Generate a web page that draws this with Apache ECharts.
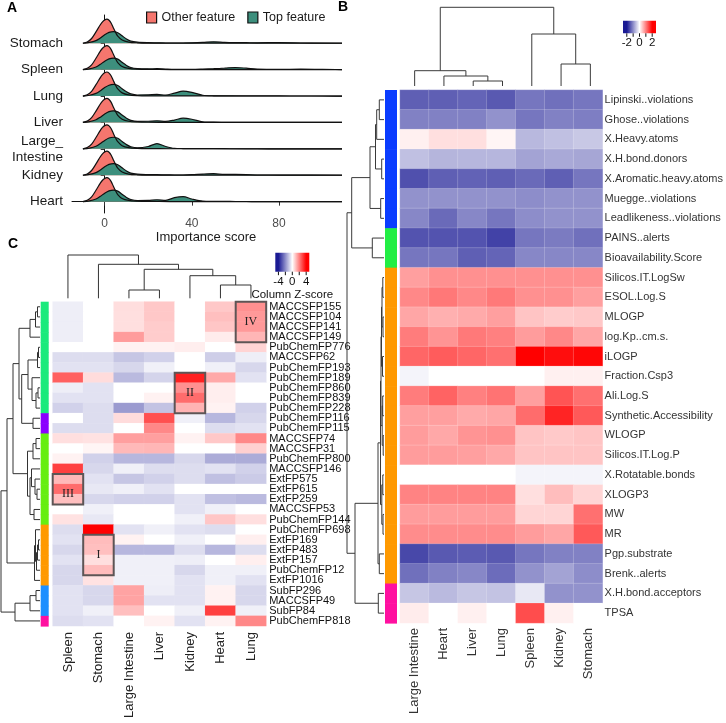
<!DOCTYPE html>
<html>
<head>
<meta charset="utf-8">
<script src="https://cdn.jsdelivr.net/npm/echarts@6.0.0/dist/echarts.min.js"></script>
<style>
html,body{margin:0;padding:0;background:#ffffff;}
#chart{width:726px;height:723px;}
</style>
</head>
<body>
<div id="chart"></div>
<script>
// ================= Panel A : ridgeline densities =================
const ridgeOrgans = ['Heart','Kidney','Large_\nIntestine','Liver','Lung','Spleen','Stomach']; // bottom -> top
const ridgeTicks = [0,1,2,3,4,5,6];
const importanceTicks = [0,40,80];
const otherX = [-10,-8,-6,-4,-2,-1,0,1,2,3,4,5,6,8,11,15,20,30,50,80,114];
const otherDensity = [0,0.05,0.18,0.43,0.7,0.81,0.88,0.91,0.87,0.76,0.58,0.41,0.27,0.12,0.045,0.017,0.007,0.004,0.003,0.002,0];
const topX = [-10,-7,-4,-2,0,2,4,6,8,10,12,15,20,24,28,32,36,40,45,50,55,60,65,70,80,90,100,114];
const topHeart   = [0,0.03,0.1,0.2,0.32,0.41,0.44,0.4,0.28,0.16,0.08,0.04,0.045,0.07,0.05,0.15,0.19,0.1,0.02,0.01,0.008,0.006,0.005,0.004,0.003,0.002,0.001,0];
const topKidney  = [0,0.03,0.1,0.2,0.32,0.41,0.44,0.4,0.28,0.16,0.08,0.04,0.025,0.02,0.012,0.01,0.01,0.02,0.045,0.06,0.03,0.03,0.025,0.01,0.008,0.005,0.003,0];
const topLargeIntestine = [0,0.03,0.1,0.2,0.32,0.41,0.44,0.4,0.28,0.16,0.08,0.04,0.09,0.2,0.09,0.02,0.012,0.01,0.008,0.006,0.005,0.004,0.003,0.003,0.002,0.002,0.001,0];
const topLiver   = [0,0.03,0.1,0.2,0.32,0.41,0.44,0.4,0.28,0.16,0.08,0.04,0.045,0.06,0.04,0.09,0.16,0.12,0.025,0.01,0.008,0.006,0.005,0.004,0.003,0.002,0.001,0];
const topLung    = [0,0.03,0.1,0.2,0.32,0.41,0.44,0.4,0.28,0.16,0.08,0.04,0.045,0.06,0.04,0.11,0.19,0.14,0.03,0.01,0.008,0.006,0.005,0.004,0.003,0.002,0.001,0];
const topSpleen  = [0,0.03,0.1,0.2,0.32,0.41,0.44,0.4,0.28,0.16,0.08,0.04,0.03,0.035,0.02,0.01,0.01,0.01,0.02,0.035,0.055,0.08,0.055,0.02,0.01,0.02,0.01,0];
const topStomach = [0,0.03,0.1,0.2,0.32,0.41,0.44,0.4,0.28,0.16,0.08,0.04,0.02,0.015,0.01,0.01,0.01,0.015,0.03,0.055,0.035,0.025,0.02,0.015,0.025,0.01,0.005,0];
const topByOrgan = [topHeart, topKidney, topLargeIntestine, topLiver, topLung, topSpleen, topStomach];

// ================= Panel B : descriptor heatmap =================
const bCols = ['Large Intestine','Heart','Liver','Lung','Spleen','Kidney','Stomach'];
const bRows = ['Lipinski..violations','Ghose..violations','X.Heavy.atoms','X.H.bond.donors','X.Aromatic.heavy.atoms',
  'Muegge..violations','Leadlikeness..violations','PAINS..alerts','Bioavailability.Score','Silicos.IT.LogSw',
  'ESOL.Log.S','MLOGP','log.Kp..cm.s.','iLOGP','Fraction.Csp3','Ali.Log.S','Synthetic.Accessibility','WLOGP',
  'Silicos.IT.Log.P','X.Rotatable.bonds','XLOGP3','MW','MR','Pgp.substrate','Brenk..alerts','X.H.bond.acceptors','TPSA'];
const bValues = [
  [-1.4,-1.4,-1.35,-1.45,-1.2,-1.25,-1.2],
  [-1.1,-1.1,-1.1,-0.95,-1.2,-1.1,-1.13],
  [0.12,0.25,0.25,0.08,-0.62,-0.55,-0.48],
  [-0.55,-0.65,-0.64,-0.64,-0.8,-0.75,-0.78],
  [-1.53,-1.4,-1.37,-1.4,-1.3,-1.4,-1.2],
  [-0.95,-0.95,-0.95,-0.95,-1.0,-0.95,-0.95],
  [-1.05,-1.3,-1.05,-1.2,-1.0,-0.95,-0.95],
  [-1.5,-1.5,-1.5,-1.65,-1.2,-1.15,-1.25],
  [-1.2,-1.2,-1.4,-1.35,-1.05,-1.05,-1.05],
  [0.75,0.87,0.87,0.87,0.87,0.87,0.87],
  [0.93,1.06,0.93,1.05,0.87,0.87,0.75],
  [0.7,0.62,0.67,0.75,0.46,0.4,0.43],
  [1.03,0.84,1.05,1.0,0.78,0.93,0.7],
  [1.2,1.28,1.2,1.12,2.0,1.9,1.95],
  [-0.1,0,0,0,0,0.12,0.12],
  [1.03,1.22,1.0,1.1,0.75,1.34,1.12],
  [0.75,0.75,0.67,0.7,1.15,1.72,1.3],
  [0.78,0.68,0.84,0.87,0.46,0.42,0.46],
  [0.78,0.78,0.75,0.68,0.46,0.46,0.46],
  [0,0,0,0,-0.1,-0.1,-0.1],
  [0.97,0.97,0.97,0.97,0.25,0.52,0.33],
  [0.78,0.78,0.78,0.78,0.33,0.33,1.12],
  [0.9,0.9,0.9,0.9,0.78,0.7,1.3],
  [-1.6,-1.45,-1.42,-1.45,-1.2,-1.1,-1.1],
  [-1.25,-1.1,-1.05,-1.28,-0.95,-0.8,-1.0],
  [-0.5,-0.6,-0.5,-0.52,-0.2,-0.95,-0.95],
  [0.15,0,0.12,0,1.4,0.12,0]
];
const bRowGroup = [0,0,0,0,0,0,0,1,1,2,2,2,2,2,2,2,2,2,2,2,2,2,2,2,2,3,3];
const bGroupColors = ['#0a3cff','#22ee44','#ff9900','#ff10a0'];
const bColMerge = [[-3,-4],[-2,1],[-1,2],[-6,-7],[-5,4],[3,5]];
const bColHeight = [5,10,15.3,22,52,78.7];
const bRowMerge = [[-1,-2],[1,-3],[-4,-5],[2,3],[-6,-7],[4,5],[-8,-9],[6,7],
  [-10,-11],[-12,-13],[9,10],[-14,-15],[11,12],[-16,-17],[-18,-19],[14,15],[13,16],
  [-20,-21],[-22,-23],[18,19],[17,20],[-24,-25],[21,22],[-26,-27],[23,24],[8,25]];
const bRowHeight = [4.7,7.3,2.3,8.5,3.3,14,11.7,32.3,1.2,1.0,2.0,1.5,2.5,1.3,0.8,1.8,3.0,1.2,1.0,2.2,3.5,4.7,6.0,5.7,29,37];
const bLegendTicks = [-2,-1,0,1,2];
const bLegendLabels = [-2,0,2];

// ================= Panel C : fingerprint heatmap =================
const cCols = ['Spleen','Stomach','Large Intestine','Liver','Kidney','Heart','Lung'];
const cRows = ['MACCSFP155','MACCSFP104','MACCSFP141','MACCSFP149','PubChemFP776','MACCSFP62','PubChemFP193',
  'PubChemFP189','PubChemFP860','PubChemFP839','PubChemFP228','PubChemFP116','PubChemFP115','MACCSFP74',
  'MACCSFP31','PubChemFP800','MACCSFP146','ExtFP575','ExtFP615','ExtFP259','MACCSFP53','PubChemFP144',
  'PubChemFP698','ExtFP169','ExtFP483','ExtFP157','PubChemFP12','ExtFP1016','SubFP296','MACCSFP49','SubFP84','PubChemFP818'];
const cValues = [
  [-0.3,0,0.52,0.86,0,0.86,1.74],
  [-0.3,0,0.5,0.86,0,1.0,1.6],
  [-0.3,0,0.5,0.8,0,0.9,1.6],
  [-0.3,0,1.55,0.8,0,0.3,1.15],
  [0,0,0.2,0.2,0.27,0,0.67],
  [-0.6,-0.6,-1.0,-0.8,0,-0.85,-0.3],
  [-0.5,-0.5,-0.7,-0.27,0,-0.27,-0.7],
  [2.5,0.55,-1.2,-0.75,3.5,1.35,-0.5],
  [-0.3,-0.5,0,0,1.75,0.27,0],
  [-0.5,-0.5,0,0.2,2.3,0.27,0],
  [-0.8,-0.6,-1.75,-1.05,1.2,0.2,-0.8],
  [0,-0.6,0.55,2.75,-0.27,-1.25,-0.7],
  [-0.6,-0.6,0,1.86,0,-0.6,-0.5],
  [0.5,0.45,1.5,1.5,0.2,0.86,1.86],
  [0,0.15,1.1,1.15,0,0,0.73],
  [0.2,-0.8,-1.25,-1.25,-0.7,-1.45,-1.45],
  [3.0,-0.7,-0.27,-0.6,-0.6,-0.5,-0.8],
  [1.1,-0.5,-1.0,-0.8,-0.6,-1.1,-0.9],
  [2.3,-0.4,-0.27,-0.5,0,0,0],
  [1.0,-0.7,-0.8,-0.8,-0.5,-1.1,-1.2],
  [0,-0.27,0,0,-0.5,-0.27,0],
  [0.45,-0.4,0,0,-0.27,0.9,0.5],
  [-0.6,4.0,-0.5,-0.27,-0.5,-0.6,0],
  [-0.5,1.05,0.2,0,-0.27,0,0.25],
  [-0.7,1.0,-1.25,-1.25,-0.6,-1.25,-0.6],
  [-0.5,0.5,-0.27,-0.27,-0.3,0,0.25],
  [-0.7,1.05,-0.27,-0.27,-0.7,-0.27,-0.27],
  [-0.7,0.45,-0.27,-0.27,-0.5,-0.27,-0.5],
  [-0.5,-0.7,1.45,-0.3,-0.5,0.2,-0.7],
  [-0.5,-0.7,1.45,-0.5,-0.5,0.2,-0.7],
  [-0.5,-0.27,1.0,0,-0.27,3.0,-0.27],
  [-0.6,-0.5,0,0.2,-0.5,0.2,1.86]
];
const cRowGroup = [0,0,0,0,0,0,0,0,0,0,0,1,1,2,2,2,2,2,2,2,2,2,3,3,3,3,3,3,4,4,4,5];
const cGroupColors = ['#1aea7c','#8a00ff','#66ee11','#ff9900','#1e8fff','#ff10a0'];
const cColMerge = [[-3,-4],[-6,-7],[-5,2],[1,3],[-2,4],[-1,5]];
const cColHeight = [8.3,13.3,22.6,29,34,43.3];
const cRowMerge = [[-1,-2],[1,-3],[2,-4],[-5,-6],[4,-7],[-9,-10],[6,-11],[-8,7],[5,8],[-12,-13],[9,10],[3,11],
  [-14,-15],[13,-16],[-19,-20],[-18,15],[-17,16],[-21,-22],[17,18],[14,19],[12,20],
  [-24,-25],[22,-26],[23,-27],[-23,24],[25,-28],[21,26],[-29,-30],[28,-31],[29,-32],[27,30]];
const cRowHeight = [2.5,4.5,10,1.5,2.5,2,4,8,12,7,18.3,21,4,7,3,5,8.5,6,10,12.5,27,1.5,2.5,3.5,4.5,5.5,33,4,10,25,39];
// highlighted boxes: [column, first row, last row, row of label]
const cBoxes = [[6,0,3,1],[4,7,10,8],[0,17,19,18],[1,23,26,24]];
const cBoxLabels = ['IV','II','III','I'];
const cLegendTicks = [-4,-2,0,2,4];
const cLegendLabels = [-4,0,4];

// ================= styling constants =================
const FONT = '"Liberation Sans", Arial, Helvetica, sans-serif';
const RED_FILL = '#f5766e', TEAL_FILL = '#3d8f7d';
const BLUE_END = '#1a1a94', RED_END = '#ff0000';

function dendroSegments(merges, heights) {
  const pos = [], hgt = [], segs = [];
  merges.forEach((m, i) => {
    const get = r => r < 0 ? [(-r) - 1, 0] : [pos[r - 1], hgt[r - 1]];
    const [pl, hl] = get(m[0]);
    const [pr, hr] = get(m[1]);
    pos[i] = (pl + pr) / 2; hgt[i] = heights[i];
    segs.push([pl, hl, pr, hr, heights[i]]);
  });
  return segs;
}
function dendroRender(horizontal, color) {
  return function (params, api) {
    const pl = api.value(0), hl = api.value(1), pr = api.value(2), hr = api.value(3), h = api.value(4);
    const pts = horizontal ? [[hl, pl], [h, pl], [h, pr], [hr, pr]] : [[pl, hl], [pl, h], [pr, h], [pr, hr]];
    return { type: 'polyline', silent: true, shape: { points: pts.map(p => api.coord(p)) },
      style: { stroke: color, lineWidth: 1, fill: null } };
  };
}
function sideBarRender(colors) {
  return function (params, api) {
    const c = api.coord([0, api.value(1)]);
    const s = api.size([1, 1]);
    return { type: 'rect', silent: true, shape: { x: c[0] - s[0] / 2, y: c[1] - s[1] / 2, width: s[0], height: s[1] + 0.6 },
      style: { fill: colors[api.value(2)] } };
  };
}

const chart = echarts.init(document.getElementById('chart'), null, { renderer: 'canvas', width: 726, height: 723 });

const grids = [
  { left: 72, top: 15, width: 268, height: 198 },          // 0 A
  { left: 400, top: 7.3, width: 205, height: 78.7 },       // 1 B col dendro
  { left: 345, top: 90, width: 39, height: 533 },          // 2 B row dendro
  { left: 385, top: 90, width: 12, height: 533 },          // 3 B side bar
  { left: 400, top: 90, width: 205, height: 533 },         // 4 B heatmap
  { left: 52.7, top: 255, width: 213.5, height: 43.3 },    // 5 C col dendro
  { left: 0, top: 301.7, width: 40, height: 324.3 },       // 6 C row dendro
  { left: 40.7, top: 301.7, width: 8, height: 324.3 },     // 7 C side bar
  { left: 52.7, top: 301.7, width: 213.5, height: 324.3 }  // 8 C heatmap
];

const hiddenVal = (gi, min, max, inverse) => ({ type: 'value', gridIndex: gi, min, max, inverse: !!inverse, show: false, splitLine: { show: false } });
const hiddenCat = (gi, data, inverse) => ({ type: 'category', gridIndex: gi, data, inverse: !!inverse, show: false });

const xAxes = [
  { type: 'value', gridIndex: 0, min: -15, max: 108, splitLine: { show: false },
    axisLine: { show: true, lineStyle: { color: '#111', width: 1 } },
    axisTick: { show: true, customValues: importanceTicks, length: 4, lineStyle: { color: '#333' } },
    axisLabel: { customValues: importanceTicks, color: '#4d4d4d', fontSize: 12, fontFamily: FONT, margin: 5 },
    name: 'Importance score', nameLocation: 'middle', nameGap: 15,
    nameTextStyle: { fontSize: 13, color: '#1a1a1a', fontFamily: FONT } },
  hiddenVal(1, -0.5, 6.5),
  hiddenVal(2, 0, 39, true),
  hiddenCat(3, ['g']),
  { type: 'category', gridIndex: 4, data: bCols, axisLine: { show: false }, axisTick: { show: false },
    axisLabel: { interval: 0, rotate: 90, fontSize: 13, color: '#333', fontFamily: FONT, margin: 5 } },
  hiddenVal(5, -0.5, 6.5),
  hiddenVal(6, 0, 40, true),
  hiddenCat(7, ['g']),
  { type: 'category', gridIndex: 8, data: cCols, axisLine: { show: false }, axisTick: { show: false },
    axisLabel: { interval: 0, rotate: 90, fontSize: 13, color: '#222', fontFamily: FONT, margin: 6 } }
];
const yAxes = [
  { type: 'value', gridIndex: 0, min: -0.43, max: 7.07, splitLine: { show: false },
    axisLine: { show: true, lineStyle: { color: '#111', width: 1 } },
    axisTick: { show: true, customValues: ridgeTicks, length: 4, lineStyle: { color: '#333' } },
    axisLabel: { customValues: ridgeTicks, formatter: v => ridgeOrgans[Math.round(v)], fontSize: 13.5,
      color: '#1a1a1a', fontFamily: FONT, margin: 9, lineHeight: 16, padding: [0, 0, 10, 0] } },
  hiddenVal(1, 0, 78.7),
  hiddenVal(2, -0.5, bRows.length - 0.5, true),
  hiddenCat(3, bRows, true),
  { type: 'category', gridIndex: 4, data: bRows, inverse: true, position: 'right', axisLine: { show: false }, axisTick: { show: false },
    axisLabel: { interval: 0, fontSize: 11, color: '#333', fontFamily: FONT, margin: 2 } },
  hiddenVal(5, 0, 43.3),
  hiddenVal(6, -0.5, cRows.length - 0.5, true),
  hiddenCat(7, cRows, true),
  { type: 'category', gridIndex: 8, data: cRows, inverse: true, position: 'right', axisLine: { show: false }, axisTick: { show: false },
    axisLabel: { interval: 0, fontSize: 11, color: '#111', fontFamily: FONT, margin: 3, hideOverlap: false } }
];

const series = [];
// Panel A ridges, top ridge first so lower ridges draw over it
for (let k = ridgeOrgans.length - 1; k >= 0; k--) {
  series.push({ type: 'line', name: 'Other feature', xAxisIndex: 0, yAxisIndex: 0,
    data: otherX.map((x, i) => [x, k + otherDensity[i]]), smooth: 0.3,
    showSymbol: false, symbol: 'none', clip: false, silent: true,
    lineStyle: { color: '#111', width: 1.2 }, itemStyle: { color: RED_FILL },
    areaStyle: { color: RED_FILL, opacity: 1, origin: k } });
  series.push({ type: 'line', name: 'Top feature', xAxisIndex: 0, yAxisIndex: 0,
    data: topX.map((x, i) => [x, k + topByOrgan[k][i]]), smooth: 0.3,
    showSymbol: false, symbol: 'none', clip: false, silent: true,
    lineStyle: { color: '#111', width: 1.2 }, itemStyle: { color: TEAL_FILL },
    areaStyle: { color: TEAL_FILL, opacity: 1, origin: k } });
}
// Panel B
series.push({ type: 'custom', xAxisIndex: 1, yAxisIndex: 1, data: dendroSegments(bColMerge, bColHeight), renderItem: dendroRender(false, '#3a3a3a'), silent: true });
series.push({ type: 'custom', xAxisIndex: 2, yAxisIndex: 2, data: dendroSegments(bRowMerge, bRowHeight), renderItem: dendroRender(true, '#3a3a3a'), silent: true });
series.push({ type: 'custom', xAxisIndex: 3, yAxisIndex: 3, data: bRowGroup.map((g, r) => [0, r, g]), renderItem: sideBarRender(bGroupColors), silent: true });
const bHeatData = [];
bValues.forEach((row, r) => row.forEach((v, c) => bHeatData.push([c, r, v])));
const iB = series.length;
series.push({ type: 'heatmap', xAxisIndex: 4, yAxisIndex: 4, data: bHeatData, silent: true,
  itemStyle: { borderColor: 'rgba(255,255,255,0.3)', borderWidth: 0.6 } });
// Panel C
series.push({ type: 'custom', xAxisIndex: 5, yAxisIndex: 5, data: dendroSegments(cColMerge, cColHeight), renderItem: dendroRender(false, '#333'), silent: true });
series.push({ type: 'custom', xAxisIndex: 6, yAxisIndex: 6, data: dendroSegments(cRowMerge, cRowHeight), renderItem: dendroRender(true, '#333'), silent: true });
series.push({ type: 'custom', xAxisIndex: 7, yAxisIndex: 7, data: cRowGroup.map((g, r) => [0, r, g]), renderItem: sideBarRender(cGroupColors), silent: true });
const cHeatData = [];
cValues.forEach((row, r) => row.forEach((v, c) => cHeatData.push([c, r, v])));
const iC = series.length;
series.push({ type: 'heatmap', xAxisIndex: 8, yAxisIndex: 8, data: cHeatData, silent: true,
  itemStyle: { borderColor: 'rgba(255,255,255,0.15)', borderWidth: 0.4 } });
series.push({ type: 'custom', xAxisIndex: 8, yAxisIndex: 8, z: 5, silent: true,
  data: cBoxes.map((b, i) => [b[0], b[1], b[2], b[3], i]),
  renderItem: function (params, api) {
    const col = api.value(0), rs = api.value(1), re = api.value(2), lr = api.value(3), idx = api.value(4);
    const a = api.coord([col, rs]), b = api.coord([col, re]), s = api.size([1, 1]);
    const lab = api.coord([col, lr]);
    return { type: 'group', children: [
      { type: 'rect', shape: { x: a[0] - s[0] / 2, y: a[1] - s[1] / 2, width: s[0], height: b[1] - a[1] + s[1] },
        style: { fill: null, stroke: '#5d5555', lineWidth: 2 } },
      { type: 'text', x: lab[0], y: lab[1] + s[1] / 2,
        style: { text: cBoxLabels[idx], font: '12px "Liberation Serif", "Times New Roman", serif', fill: '#222', align: 'center', verticalAlign: 'middle' } }
    ] };
  } });

// colour-key graphics
function colorKey(x, y, w, h, lo, hi, sat, ticks, labels, title) {
  const px = v => x + (v - lo) / (hi - lo) * w;
  const els = [{ type: 'rect', shape: { x, y, width: w, height: h }, silent: true,
    style: { fill: new echarts.graphic.LinearGradient(0, 0, 1, 0, [
      { offset: 0, color: BLUE_END }, { offset: (-sat - lo) / (hi - lo), color: BLUE_END },
      { offset: (0 - lo) / (hi - lo), color: '#ffffff' },
      { offset: (sat - lo) / (hi - lo), color: RED_END }, { offset: 1, color: RED_END }]) } }];
  ticks.forEach(t => els.push({ type: 'line', silent: true, shape: { x1: px(t), y1: y + h, x2: px(t), y2: y + h + 3.5 }, style: { stroke: '#111', lineWidth: 1 } }));
  labels.forEach(t => els.push({ type: 'text', silent: true, x: px(t), y: y + h + 4,
    style: { text: String(t), font: '11.5px ' + FONT, fill: '#111', align: 'center', verticalAlign: 'top' } }));
  if (title) els.push({ type: 'text', silent: true, x: x + w / 2, y: y + h + 17,
    style: { text: title, font: '11.5px ' + FONT, fill: '#111', align: 'center', verticalAlign: 'top' } });
  return els;
}
const graphics = [
  { type: 'text', left: 7, top: 1, style: { text: 'A', font: 'bold 14px ' + FONT, fill: '#000' } },
  { type: 'text', left: 338, top: 0, style: { text: 'B', font: 'bold 14px ' + FONT, fill: '#000' } },
  { type: 'text', left: 8, top: 237, style: { text: 'C', font: 'bold 14px ' + FONT, fill: '#000' } },
  ...colorKey(623, 20.7, 33, 12.6, -2.6, 2.6, 2, bLegendTicks, bLegendLabels, null),
  ...colorKey(275.3, 252.7, 34, 19, -4.9, 4.9, 4, cLegendTicks, cLegendLabels, 'Column Z-score')
];

chart.setOption({
  animation: false,
  backgroundColor: '#ffffff',
  textStyle: { fontFamily: FONT },
  grid: grids,
  xAxis: xAxes,
  yAxis: yAxes,
  legend: { data: [{ name: 'Other feature' }, { name: 'Top feature' }], left: 141, top: 6, icon: 'rect',
    itemWidth: 10, itemHeight: 11, itemGap: 12, selectedMode: false,
    itemStyle: { borderColor: '#111', borderWidth: 1.2 },
    textStyle: { fontSize: 12.5, color: '#1a1a1a', fontFamily: FONT } },
  visualMap: [
    { type: 'continuous', show: false, seriesIndex: iB, dimension: 2, min: -2, max: 2, inRange: { color: [BLUE_END, '#ffffff', RED_END] } },
    { type: 'continuous', show: false, seriesIndex: iC, dimension: 2, min: -4, max: 4, inRange: { color: [BLUE_END, '#ffffff', RED_END] } }
  ],
  graphic: graphics,
  series
});
</script>
</body>
</html>
